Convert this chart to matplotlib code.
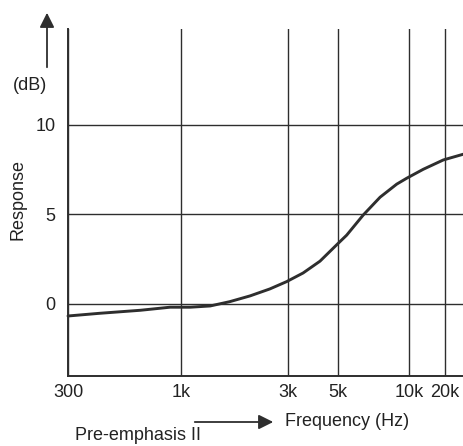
import numpy as np
import matplotlib
matplotlib.use('Agg')
import matplotlib.pyplot as plt

plt.rcParams['font.family'] = ['Liberation Sans', 'DejaVu Sans']

# curve
FREQ = [300, 420, 650, 890, 1100, 1350, 1650, 2030, 2490, 2960, 3500, 4160,
        4930, 5440, 6400, 7540, 8870, 9780, 13170, 19360, 29550]
RESP = [-0.67, -0.52, -0.35, -0.18, -0.18, -0.11, 0.13, 0.45, 0.84, 1.25, 1.73, 2.39,
        3.30, 3.84, 4.97, 5.96, 6.69, 7.02, 7.52, 8.04, 8.36]

XTICKS = [300, 1000, 3000, 5000, 10000, 20000]
XLABELS = ['300', '1k', '3k', '5k', '10k', '20k']
YTICKS = [0, 5, 10]

# the printed frequency axis is hand drawn, roughly logarithmic
AX_F = [300, 1000, 3000, 5000, 10000, 20000, 30000]
AX_P = [0, 113, 220, 270, 341, 377, 396]
LOGF = np.log10(AX_F)


def fwd(f):
    return np.interp(np.log10(np.clip(f, 1e-9, None)), LOGF, AX_P)


def inv(p):
    return 10 ** np.interp(p, AX_P, LOGF)


ink = '#2e2e2e'

fig = plt.figure(figsize=(4.64, 4.46), dpi=100)
ax = fig.add_axes([68 / 464, 1 - 376 / 446, 1 - 68 / 464, (376 - 29) / 446])
ax.set_xscale('function', functions=(fwd, inv))
ax.set_xlim(300, 30000)
ax.set_ylim(-4.02, 15.35)

ax.set_xticks(XTICKS)
ax.set_xticklabels(XLABELS)
ax.set_yticks(YTICKS)
ax.minorticks_off()
ax.tick_params(length=0, labelsize=13, colors='#222222')
ax.tick_params(axis='x', pad=6)
ax.tick_params(axis='y', pad=9)

ax.grid(True, color=ink, lw=1.0)
ax.set_axisbelow(True)
for s in ['top', 'right']:
    ax.spines[s].set_visible(False)
for s in ['left', 'bottom']:
    ax.spines[s].set_color(ink)
    ax.spines[s].set_linewidth(1.4)

ax.plot(FREQ, RESP, color=ink, lw=2.1, solid_capstyle='round',
        solid_joinstyle='round', clip_on=False)

# annotations around the frame
fig.text(18, 246, 'Response', transform=None, rotation=90, ha='center', va='center',
         fontsize=13, color='#222222')
fig.text(30, 361, '(dB)', transform=None, ha='center', va='center', fontsize=13, color='#222222')
ax.annotate('', xy=(47, 436), xytext=(47, 376), xycoords='figure pixels',
            textcoords='figure pixels',
            arrowprops=dict(arrowstyle='-|>', mutation_scale=22, lw=1.3, color=ink))
ax.annotate('', xy=(276, 24), xytext=(192, 24), xycoords='figure pixels',
            textcoords='figure pixels',
            arrowprops=dict(arrowstyle='-|>', mutation_scale=22, lw=1.3, color=ink))
fig.text(285, 24, 'Frequency (Hz)', transform=None, ha='left', va='center',
         fontsize=13, color='#222222')
fig.text(75, 2, 'Pre-emphasis II', transform=None, ha='left', va='bottom',
         fontsize=13, color='#222222')

fig.savefig('out.png', dpi=100, facecolor='white')
